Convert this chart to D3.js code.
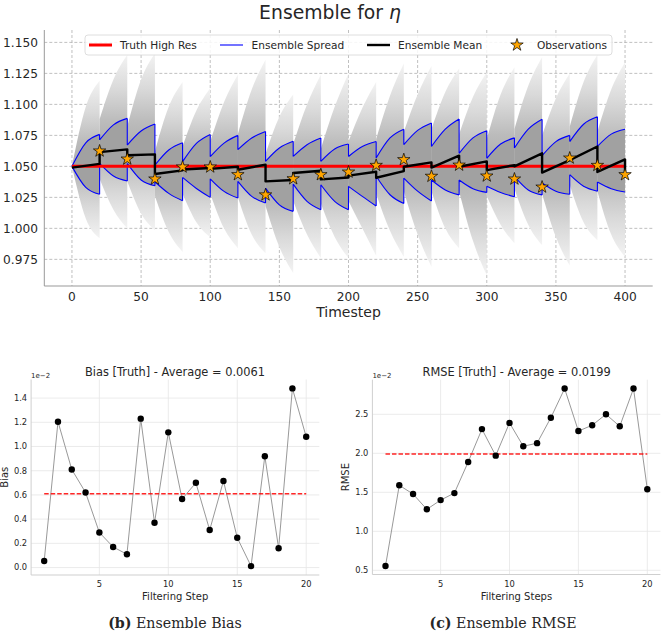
<!DOCTYPE html>
<html><head><meta charset="utf-8">
<script src="https://cdn.jsdelivr.net/npm/d3@7"></script>
<style>
body{margin:0;background:#fff}
svg{display:block}
text{font-family:"DejaVu Sans",sans-serif;fill:#262626}
</style>
</head><body>
<svg id="c" width="661" height="638"></svg>
<script>
// ---------------- data: top panel (ensemble for eta) ----------------
const cycleStart = [0,20,40,60,80,100,120,140,160,180,200,220,240,260,280,300,320,340,360,380];
const cycleMid   = [10,30,50,70,90,110,130,150,170,190,210,230,250,270,290,310,330,350,370,390];
const cycleEnd   = [20,40,60,80,100,120,140,160,180,200,220,240,260,280,300,320,340,360,380,400];
const meanStart = [1.0490,1.0615,1.0590,1.0438,1.0475,1.0480,1.0473,1.0379,1.0446,1.0395,1.0425,1.0408,1.0497,1.0490,1.0497,1.0470,1.0500,1.0450,1.0550,1.0455];
const meanEnd   = [1.0520,1.0637,1.0597,1.0468,1.0487,1.0497,1.0513,1.0390,1.0465,1.0410,1.0457,1.0462,1.0532,1.0586,1.0540,1.0510,1.0605,1.0550,1.0660,1.0556];
const meanFinal = 1.0460;
const spreadUpStart = [1.0500,1.0713,1.0672,1.0510,1.0538,1.0578,1.0635,1.0540,1.0580,1.0540,1.0580,1.0567,1.0675,1.0660,1.0605,1.0565,1.0648,1.0586,1.0700,1.0661];
const spreadUpMid   = [1.0690,1.0835,1.0785,1.0632,1.0686,1.0688,1.0729,1.0648,1.0675,1.0640,1.0660,1.0729,1.0790,1.0800,1.0730,1.0680,1.0800,1.0700,1.0840,1.0760];
const spreadUpEnd   = [1.0758,1.0887,1.0842,1.0690,1.0758,1.0750,1.0782,1.0702,1.0729,1.0680,1.0700,1.0800,1.0850,1.0882,1.0788,1.0730,1.0880,1.0750,1.0900,1.0800];
const spreadLoStart = [1.0500,1.0524,1.0524,1.0376,1.0411,1.0400,1.0379,1.0325,1.0357,1.0352,1.0339,1.0420,1.0406,1.0390,1.0390,1.0340,1.0420,1.0366,1.0433,1.0374];
const spreadLoMid   = [1.0330,1.0422,1.0390,1.0282,1.0322,1.0298,1.0258,1.0190,1.0218,1.0218,1.0258,1.0271,1.0300,1.0310,1.0320,1.0290,1.0310,1.0300,1.0340,1.0320];
const spreadLoEnd   = [1.0275,1.0382,1.0344,1.0223,1.0250,1.0244,1.0204,1.0137,1.0150,1.0150,1.0180,1.0200,1.0220,1.0270,1.0290,1.0255,1.0270,1.0275,1.0300,1.0293];
const memberMaxStart = [1.050,1.088,1.082,1.062,1.066,1.070,1.076,1.060,1.068,1.064,1.070,1.072,1.078,1.080,1.076,1.072,1.080,1.075,1.082,1.078];
const memberMaxMid   = [1.098,1.120,1.120,1.098,1.095,1.102,1.112,1.090,1.100,1.098,1.097,1.107,1.108,1.110,1.106,1.108,1.115,1.105,1.118,1.112];
const memberMaxEnd   = [1.119,1.140,1.141,1.118,1.113,1.124,1.136,1.108,1.124,1.125,1.118,1.133,1.131,1.129,1.126,1.130,1.138,1.125,1.140,1.134];
const memberMinStart = [1.050,1.040,1.038,1.026,1.028,1.028,1.025,1.018,1.022,1.020,1.022,1.028,1.030,1.030,1.030,1.026,1.032,1.028,1.035,1.030];
const memberMinMid   = [1.008,1.015,1.012,0.997,1.005,1.000,0.995,0.985,0.995,0.993,1.000,0.998,0.995,1.000,0.990,1.003,1.003,0.993,1.005,0.995];
const memberMinEnd   = [0.992,1.000,0.9985,0.981,0.993,0.984,0.980,0.964,0.976,0.976,0.978,0.977,0.969,0.984,0.962,0.988,0.9865,0.970,0.9905,0.977];
const truthTimes  = [0,400];
const truthValues = [1.05,1.05];
const obsTimes  = [20,40,60,80,100,120,140,160,180,200,220,240,260,280,300,320,340,360,380,400];
const obsValues = [1.0624,1.0559,1.0398,1.0495,1.0495,1.0433,1.0270,1.0400,1.0433,1.0454,1.0508,1.0554,1.0420,1.0510,1.0422,1.0398,1.0333,1.0567,1.0508,1.0433];
const timeTicks = [0,50,100,150,200,250,300,350,400];
const etaTicks  = [0.975,1.000,1.025,1.050,1.075,1.100,1.125,1.150];
const legendLabels = ["Truth High Res","Ensemble Spread","Ensemble Mean","Observations"];

// ---------------- data: bottom panels ----------------
const filterSteps = [1,2,3,4,5,6,7,8,9,10,11,12,13,14,15,16,17,18,19,20];
const biasValues  = [0.054,1.205,0.81,0.62,0.29,0.17,0.11,1.23,0.37,1.117,0.566,0.70,0.31,0.715,0.246,0.012,0.92,0.159,1.48,1.08]; // x 1e-2
const biasAverage = 0.61;  // x 1e-2
const rmseValues  = [0.555,1.59,1.478,1.282,1.40,1.49,1.888,2.31,1.97,2.39,2.09,2.13,2.456,2.83,2.285,2.36,2.50,2.346,2.83,1.54]; // x 1e-2
const rmseAverage = 1.99;  // x 1e-2
const stepTicks = [5,10,15,20];
const biasTicks = [0.0,0.2,0.4,0.6,0.8,1.0,1.2,1.4];
const rmseTicks = [0.5,1.0,1.5,2.0,2.5];

const svg = d3.select("#c");

// ================= TOP PANEL =================
const X = d3.scaleLinear().domain([-20,420]).range([44.3,652.7]);
const Y = d3.scaleLinear().domain([0.9535,1.16]).range([286,30]);
const topG = svg.append("g");

// grid
topG.append("g").selectAll("line").data(timeTicks).join("line")
  .attr("x1",d=>X(d)).attr("x2",d=>X(d)).attr("y1",Y.range()[1]).attr("y2",Y.range()[0])
  .attr("stroke","#b0b0b0").attr("stroke-width",0.8).attr("stroke-dasharray","3,2");
topG.append("g").selectAll("line").data(etaTicks).join("line")
  .attr("x1",X.range()[0]).attr("x2",X.range()[1]).attr("y1",d=>Y(d)).attr("y2",d=>Y(d))
  .attr("stroke","#b0b0b0").attr("stroke-width",0.8).attr("stroke-dasharray","3,2");

// gradient for ensemble members cloud
const defs = svg.append("defs");
const grad = defs.append("linearGradient").attr("id","ensGrad").attr("x1",0).attr("y1",0).attr("x2",0).attr("y2",1);
[[0,"#f3f3f3"],[0.2,"#d9d9d9"],[0.38,"#bcbcbc"],[0.5,"#b0b0b0"],[0.62,"#bcbcbc"],[0.8,"#d9d9d9"],[1,"#f3f3f3"]]
  .forEach(s=>grad.append("stop").attr("offset",s[0]).attr("stop-color",s[1]));

const cycles = d3.range(cycleStart.length);
const areaC = d3.area().x(d=>X(d.t)).y0(d=>Y(d.lo)).y1(d=>Y(d.hi)).curve(d3.curveMonotoneX);
const lineC = d3.line().x(d=>X(d.t)).y(d=>Y(d.v)).curve(d3.curveMonotoneX);

// ensemble member cloud
topG.append("g").selectAll("path").data(cycles).join("path")
  .attr("d",k=>areaC([
    {t:cycleStart[k],hi:memberMaxStart[k],lo:memberMinStart[k]},
    {t:cycleMid[k],hi:memberMaxMid[k],lo:memberMinMid[k]},
    {t:cycleEnd[k],hi:memberMaxEnd[k],lo:memberMinEnd[k]}]))
  .attr("fill","url(#ensGrad)");
// dense core (inside spread)
topG.append("g").selectAll("path").data(cycles).join("path")
  .attr("d",k=>areaC([
    {t:cycleStart[k],hi:spreadUpStart[k],lo:spreadLoStart[k]},
    {t:cycleMid[k],hi:spreadUpMid[k],lo:spreadLoMid[k]},
    {t:cycleEnd[k],hi:spreadUpEnd[k],lo:spreadLoEnd[k]}]))
  .attr("fill","#a1a1a1");

// spread lines
function spreadPath(s,m,e){
  let d="";
  cycles.forEach(k=>{
    d += lineC([{t:cycleStart[k],v:s[k]},{t:cycleMid[k],v:m[k]},{t:cycleEnd[k],v:e[k]}]);
    if(k<cycles.length-1) d += "M"+X(cycleEnd[k])+","+Y(e[k])+"L"+X(cycleStart[k+1])+","+Y(s[k+1]);
  });
  return d;
}
topG.append("path").attr("d",spreadPath(spreadUpStart,spreadUpMid,spreadUpEnd))
  .attr("fill","none").attr("stroke","#0000ff").attr("stroke-width",1.1);
topG.append("path").attr("d",spreadPath(spreadLoStart,spreadLoMid,spreadLoEnd))
  .attr("fill","none").attr("stroke","#0000ff").attr("stroke-width",1.1);

// truth
const lineL = d3.line().x(d=>X(d[0])).y(d=>Y(d[1]));
topG.append("path").attr("d",lineL(truthTimes.map((t,i)=>[t,truthValues[i]])))
  .attr("stroke","#ff0000").attr("stroke-width",3).attr("fill","none");

// mean
const meanPts = [];
cycles.forEach(k=>{meanPts.push([cycleStart[k],meanStart[k]]);meanPts.push([cycleEnd[k],meanEnd[k]]);});
meanPts.push([cycleEnd[cycleEnd.length-1],meanFinal]);
topG.append("path").attr("d",lineL(meanPts)).attr("stroke","#000").attr("stroke-width",2.4)
  .attr("fill","none").attr("stroke-linejoin","round");

// observations
const star = d3.symbol().type(d3.symbolStar).size(48);
topG.append("g").selectAll("path").data(obsTimes).join("path")
  .attr("d",star).attr("transform",(t,i)=>`translate(${X(t)},${Y(obsValues[i])})`)
  .attr("fill","#ffa500").attr("stroke","#000").attr("stroke-width",0.7);

// spines
topG.append("line").attr("x1",X.range()[0]).attr("x2",X.range()[0]).attr("y1",Y.range()[0]).attr("y2",Y.range()[1]).attr("stroke","#999");
topG.append("line").attr("x1",X.range()[0]).attr("x2",X.range()[1]).attr("y1",Y.range()[0]).attr("y2",Y.range()[0]).attr("stroke","#999");

// tick labels
topG.append("g").selectAll("text").data(etaTicks).join("text")
  .attr("x",38).attr("y",d=>Y(d)+4.3).attr("text-anchor","end").attr("font-size",12.2).text(d3.format(".3f"));
topG.append("g").selectAll("text").data(timeTicks).join("text")
  .attr("x",d=>X(d)).attr("y",301).attr("text-anchor","middle").attr("font-size",12.2).text(d=>d);
topG.append("text").attr("x",348.5).attr("y",317).attr("text-anchor","middle").attr("font-size",14).text("Timestep");
const ttl = topG.append("text").attr("x",330).attr("y",18.5).attr("text-anchor","middle").attr("font-size",18.8);
ttl.append("tspan").text("Ensemble for ");
ttl.append("tspan").attr("font-style","italic").text("η");

// legend
const lg = topG.append("g");
lg.append("rect").attr("x",85).attr("y",35).attr("width",527).attr("height",20).attr("rx",3)
  .attr("fill","#fff").attr("fill-opacity",0.85).attr("stroke","#d6d6d6").attr("stroke-width",0.8);
const ly = 45;
lg.append("line").attr("x1",89).attr("x2",112).attr("y1",ly).attr("y2",ly).attr("stroke","#ff0000").attr("stroke-width",3);
lg.append("line").attr("x1",220).attr("x2",243).attr("y1",ly).attr("y2",ly).attr("stroke","#0000ff").attr("stroke-width",1.1);
lg.append("line").attr("x1",367).attr("x2",390).attr("y1",ly).attr("y2",ly).attr("stroke","#000").attr("stroke-width",2.4);
lg.append("path").attr("d",star).attr("transform",`translate(517,${ly})`).attr("fill","#ffa500").attr("stroke","#000").attr("stroke-width",0.7);
[120,251.5,398,537].forEach((x,i)=>lg.append("text").attr("x",x).attr("y",ly+3.8).attr("font-size",10.6).text(legendLabels[i]));

// ================= BOTTOM PANELS =================
function small(cfg){
  const g = svg.append("g");
  const x = d3.scaleLinear().domain([0.05,20.95]).range(cfg.xr);
  const y = d3.scaleLinear().domain(cfg.yd).range([cfg.yb,cfg.yt]);
  g.append("g").selectAll("line").data(stepTicks).join("line")
    .attr("x1",d=>x(d)).attr("x2",d=>x(d)).attr("y1",cfg.yb).attr("y2",cfg.yt)
    .attr("stroke","#e6e6e6").attr("stroke-width",0.8);
  g.append("g").selectAll("line").data(cfg.ticks).join("line")
    .attr("x1",cfg.xr[0]).attr("x2",cfg.xr[1]).attr("y1",d=>y(d)).attr("y2",d=>y(d))
    .attr("stroke","#e6e6e6").attr("stroke-width",0.8);
  g.append("line").attr("x1",cfg.xr[0]).attr("x2",cfg.xr[0]).attr("y1",cfg.yb).attr("y2",cfg.yt).attr("stroke","#cfcfcf");
  g.append("line").attr("x1",cfg.xr[0]).attr("x2",cfg.xr[1]).attr("y1",cfg.yb).attr("y2",cfg.yb).attr("stroke","#cfcfcf");
  const ln = d3.line().x((d,i)=>x(filterSteps[i])).y(d=>y(d));
  g.append("path").attr("d",ln(cfg.vals)).attr("fill","none").attr("stroke","#999").attr("stroke-width",1);
  g.append("line").attr("x1",x(filterSteps[0])).attr("x2",x(filterSteps[filterSteps.length-1]))
    .attr("y1",y(cfg.avg)).attr("y2",y(cfg.avg)).attr("stroke","#ff0000").attr("stroke-opacity",0.85)
    .attr("stroke-width",1.5).attr("stroke-dasharray","4.5,2");
  g.append("g").selectAll("circle").data(cfg.vals).join("circle")
    .attr("cx",(d,i)=>x(filterSteps[i])).attr("cy",d=>y(d)).attr("r",3.2).attr("fill","#000");
  g.append("g").selectAll("text").data(cfg.ticks).join("text")
    .attr("x",cfg.xr[0]-4).attr("y",d=>y(d)+2.9).attr("text-anchor","end").attr("font-size",8.3).text(d3.format(".1f"));
  g.append("g").selectAll("text").data(stepTicks).join("text")
    .attr("x",d=>x(d)).attr("y",587).attr("text-anchor","middle").attr("font-size",8.3).text(d=>d);
  g.append("text").attr("x",cfg.xr[0]).attr("y",378).attr("font-size",7).text("1e−2");
  g.append("text").attr("x",cfg.tx).attr("y",375.5).attr("text-anchor","middle").attr("font-size",11.4).text(cfg.title);
  g.append("text").attr("x",(cfg.xr[0]+cfg.xr[1])/2).attr("y",600).attr("text-anchor","middle").attr("font-size",10).text(cfg.xlabel);
  g.append("text").attr("transform",`translate(${cfg.ylx},${(cfg.yb+cfg.yt)/2}) rotate(-90)`)
    .attr("text-anchor","middle").attr("font-size",10).text(cfg.ylabel);
}
small({xr:[31.1,319.3],yd:[-0.0614,1.5534],yb:575,yt:379.5,ticks:biasTicks,vals:biasValues,avg:biasAverage,
  title:"Bias [Truth] - Average = 0.0061",tx:175,xlabel:"Filtering Step",ylabel:"Bias",ylx:8});
small({xr:[372.4,660.4],yd:[0.4465,2.9435],yb:574.5,yt:379.7,ticks:rmseTicks,vals:rmseValues,avg:rmseAverage,
  title:"RMSE [Truth] - Average = 0.0199",tx:516.7,xlabel:"Filtering Steps",ylabel:"RMSE",ylx:349});

// captions
function caption(x,lab,txt){
  const t = svg.append("text").attr("x",x).attr("y",628).attr("text-anchor","middle")
    .style("font-family","'DejaVu Serif',serif").attr("font-size",14.2);
  t.append("tspan").attr("font-weight","bold").text(lab);
  t.append("tspan").text(" "+txt);
}
caption(175,"(b)","Ensemble Bias");
caption(503,"(c)","Ensemble RMSE");
</script>
</body></html>
